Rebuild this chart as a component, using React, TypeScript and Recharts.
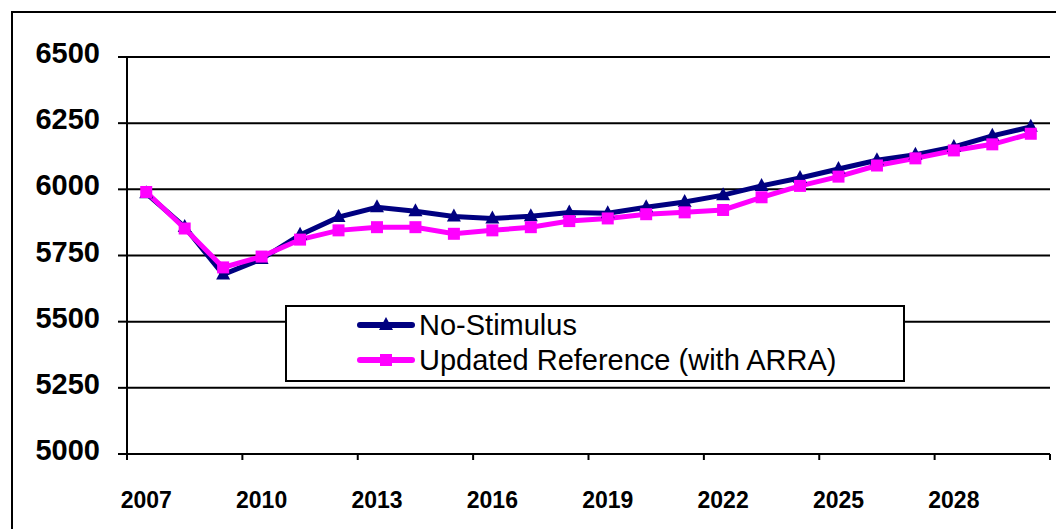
import { LineChart, Line, XAxis, YAxis, CartesianGrid, Legend } from 'recharts';

const years = [
  '2007', '2008', '2009', '2010', '2011', '2012', '2013', '2014', '2015', '2016', '2017', '2018',
  '2019', '2020', '2021', '2022', '2023', '2024', '2025', '2026', '2027', '2028', '2029', '2030',
];
const noStimulus = [
  5985, 5858, 5678, 5737, 5828, 5895, 5932, 5917, 5897, 5890, 5898, 5912,
  5910, 5932, 5952, 5978, 6013, 6043, 6077, 6110, 6131, 6160, 6202, 6236,
];
const updatedReference = [
  5990, 5852, 5705, 5746, 5810, 5845, 5857, 5857, 5832, 5845, 5857, 5880,
  5890, 5906, 5913, 5922, 5970, 6013, 6048, 6090, 6117, 6147, 6170, 6210,
];
const yTicks = [5000, 5250, 5500, 5750, 6000, 6250, 6500];

const NAVY = '#000080';
const MAGENTA = '#FF00FF';
const FONT = 'Arial, "Liberation Sans", sans-serif';

// plot area spans 127..1050; points sit in the middle of each category
const PLOT_W = 923;
const PAD = PLOT_W / years.length / 2;
const STEP = (PLOT_W - 2 * PAD) / (years.length - 1);

const data = years.map((year, i) => ({
  year,
  noStimulus: noStimulus[i],
  updated: updatedReference[i],
}));

const triangleDot = (props: any) => {
  const { cx, cy, index } = props;
  return (
    <path
      key={`tri-${index}`}
      d={`M${cx},${cy - 8} L${cx + 7},${cy + 5} L${cx - 7},${cy + 5} Z`}
      fill={NAVY}
    />
  );
};

const squareDot = (props: any) => {
  const { cx, cy, index } = props;
  return <rect key={`sq-${index}`} x={cx - 6} y={cy - 6} width={12} height={12} fill={MAGENTA} />;
};

const YTick = (props: any) => {
  const { x, y, payload } = props;
  return (
    <text x={x} y={y} dy={6} textAnchor="end" fontFamily={FONT} fontWeight="bold" fontSize={29} fill="#000">
      {payload.value}
    </text>
  );
};

const XTick = (props: any) => {
  const { x, y, payload, index, visibleTicksCount } = props;
  const edge = x - PAD;
  return (
    <g>
      <line x1={edge} y1={y - 6} x2={edge} y2={y} stroke="#000" strokeWidth={2} />
      {index === visibleTicksCount - 1 && (
        <line x1={edge + 3 * STEP} y1={y - 6} x2={edge + 3 * STEP} y2={y} stroke="#000" strokeWidth={2} />
      )}
      <text x={x} y={y + 48} textAnchor="middle" fontFamily={FONT} fontWeight="bold" fontSize={23} fill="#000">
        {payload.value}
      </text>
    </g>
  );
};

const legendItems = [
  { label: 'No-Stimulus', color: NAVY, shape: 'triangle' },
  { label: 'Updated Reference (with ARRA)', color: MAGENTA, shape: 'square' },
];

const LegendBox = () => (
  <div
    style={{
      width: 620,
      height: 77,
      boxSizing: 'border-box',
      border: '2px solid #000',
      background: '#fff',
      position: 'relative',
      fontFamily: FONT,
      fontSize: 29,
      color: '#000',
    }}
  >
    {legendItems.map((item, i) => (
      <div
        key={item.label}
        style={{ position: 'absolute', left: 70, top: 1 + i * 35, height: 34, display: 'flex', alignItems: 'center' }}
      >
        <svg width={58} height={20}>
          <line x1={3} y1={10} x2={55} y2={10} stroke={item.color} strokeWidth={6} strokeLinecap="round" />
          {item.shape === 'triangle' ? (
            <path d="M29,2 L36,15 L22,15 Z" fill={item.color} />
          ) : (
            <rect x={23} y={4} width={12} height={12} fill={item.color} />
          )}
        </svg>
        <span style={{ marginLeft: 4, lineHeight: '34px', whiteSpace: 'nowrap' }}>{item.label}</span>
      </div>
    ))}
  </div>
);

export default function App() {
  return (
    <div style={{ position: 'fixed', left: 0, top: 0, width: 1056, height: 529, overflow: 'hidden', background: '#fff' }}>
      <div
        style={{
          position: 'absolute',
          left: 11,
          top: 11,
          width: 1200,
          height: 700,
          border: '2px solid #000',
        }}
      />
      <LineChart width={1056} height={529} data={data} margin={{ top: 57, right: 6, left: 0, bottom: 0 }}>
        <CartesianGrid vertical={false} stroke="#000" strokeWidth={2} />
        <XAxis
          dataKey="year"
          height={75}
          padding={{ left: PAD, right: PAD }}
          interval={2}
          tickLine={false}
          tickSize={6}
          tickMargin={0}
          stroke="#000"
          strokeWidth={2}
          tick={<XTick />}
        />
        <YAxis
          width={127}
          domain={[5000, 6500]}
          ticks={yTicks}
          interval={0}
          tickSize={9}
          tickMargin={18}
          stroke="#000"
          strokeWidth={2}
          tick={<YTick />}
        />
        <YAxis yAxisId="right" orientation="right" width={0} tick={false} tickLine={false} stroke="#000" strokeWidth={2} />
        <Legend
          verticalAlign="middle"
          align="center"
          content={<LegendBox />}
          wrapperStyle={{ position: 'absolute', left: 285, top: 305, width: 620, height: 77, margin: 0 }}
        />
        <Line
          type="linear"
          dataKey="noStimulus"
          name="No-Stimulus"
          stroke={NAVY}
          strokeWidth={5}
          dot={triangleDot}
          activeDot={false}
          isAnimationActive={false}
        />
        <Line
          type="linear"
          dataKey="updated"
          name="Updated Reference (with ARRA)"
          stroke={MAGENTA}
          strokeWidth={5}
          dot={squareDot}
          activeDot={false}
          isAnimationActive={false}
        />
      </LineChart>
    </div>
  );
}
